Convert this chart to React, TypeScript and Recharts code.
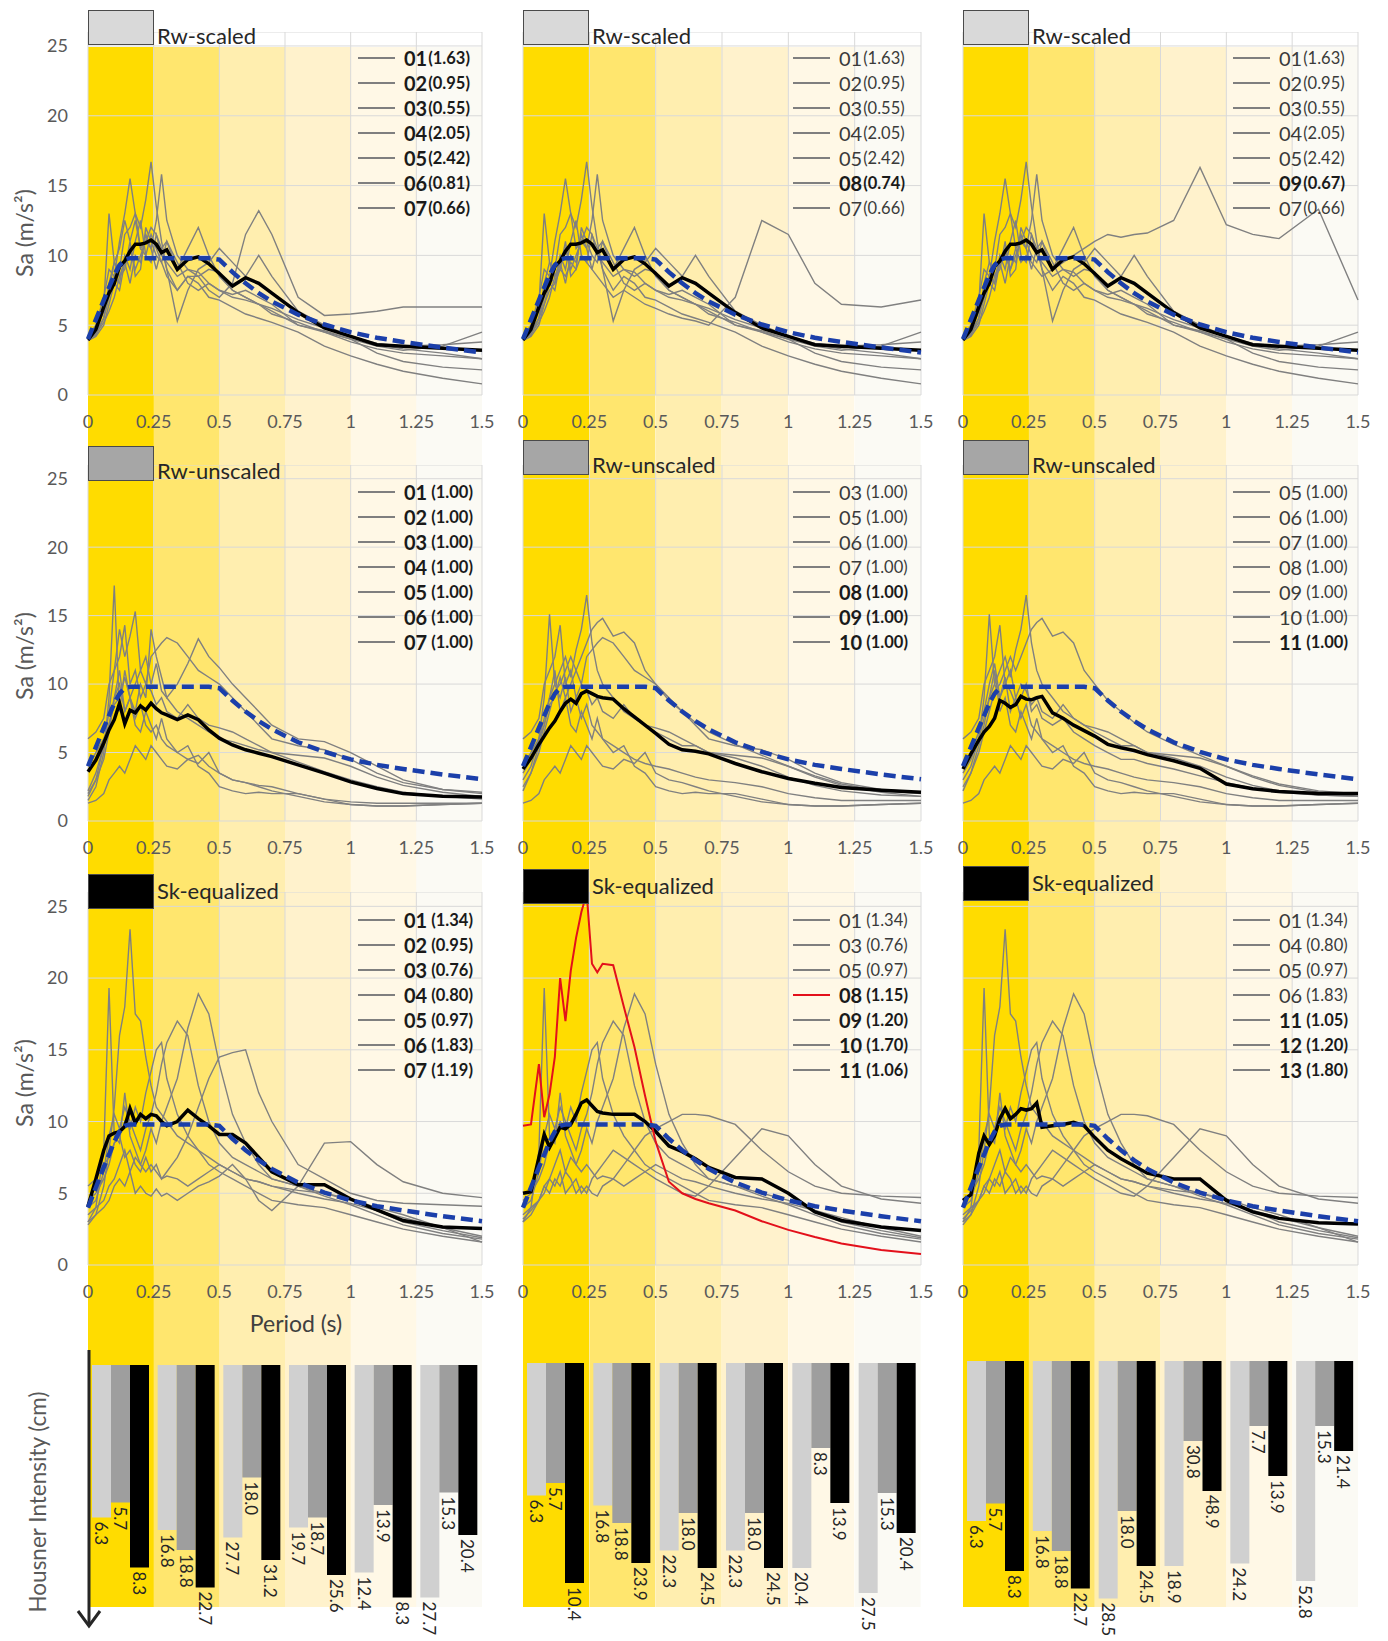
import React from "react";
import {
  LineChart,
  Line,
  XAxis,
  YAxis,
  CartesianGrid,
  BarChart,
  Bar,
  Cell,
  LabelList,
} from "recharts";

const FONT = "Lato, 'Open Sans', sans-serif";

// periods (s) shared by every spectrum
const PERIODS = [0, 0.03, 0.06, 0.08, 0.1, 0.12, 0.14, 0.16, 0.18, 0.2, 0.22, 0.24, 0.26, 0.28, 0.3, 0.34, 0.38, 0.42, 0.46, 0.5, 0.55, 0.6, 0.65, 0.7, 0.8, 0.9, 1.0, 1.1, 1.2, 1.35, 1.5];
const X_TICKS = [0, 0.25, 0.5, 0.75, 1, 1.25, 1.5];
const Y_TICKS = [0, 5, 10, 15, 20, 25];
const BANDS = ["0-0.25", "0.25-0.5", "0.5-0.75", "0.75-1", "1-1.25", "1.25-1.5"];
const BAND_COLORS = ["#FFDC00", "#FFE66E", "#FFEEAF", "#FFF2CC", "#FFF8E6", "#FBFAF4"];

// target (design) spectrum
const TARGET = [4.0, 5.4, 6.8, 7.7, 8.6, 9.3, 9.7, 9.8, 9.8, 9.8, 9.8, 9.8, 9.8, 9.8, 9.8, 9.8, 9.8, 9.8, 9.8, 9.7, 8.8, 8.0, 7.3, 6.7, 5.75, 5.05, 4.5, 4.1, 3.8, 3.4, 3.05];

// ---- Rw-scaled records ----
const RS_01 = [4.0, 4.3, 5.5, 8.0, 9.5, 9.0, 11.5, 12.0, 13.0, 12.0, 14.0, 16.7, 13.5, 11.0, 9.0, 7.5, 8.5, 8.0, 7.0, 6.8, 6.3, 5.8, 5.5, 5.2, 4.5, 3.5, 2.8, 2.2, 1.7, 1.2, 0.8];
const RS_02 = [4.2, 5.0, 7.0, 9.0, 8.5, 11.0, 13.0, 15.5, 13.0, 10.5, 11.0, 10.5, 12.5, 15.8, 12.5, 10.0, 9.0, 8.8, 8.0, 7.5, 7.0, 6.8, 6.5, 6.2, 5.4, 4.8, 4.2, 3.7, 3.5, 3.6, 3.8];
const RS_03 = [4.0, 4.8, 6.5, 13.0, 9.5, 8.5, 9.0, 11.0, 8.5, 9.0, 12.0, 11.0, 10.0, 9.5, 11.0, 9.0, 10.5, 12.0, 10.0, 8.5, 7.5, 7.0, 6.5, 6.0, 5.0, 4.5, 4.0, 3.5, 3.2, 3.5, 4.5];
const RS_04 = [3.9, 4.2, 5.0, 6.5, 8.0, 7.5, 9.5, 8.0, 10.0, 9.5, 11.5, 10.5, 9.0, 10.5, 9.0, 5.3, 7.5, 9.0, 9.5, 10.5, 9.5, 8.5, 10.0, 8.5, 6.0, 5.0, 4.2, 3.6, 3.3, 3.0, 2.6];
const RS_05 = [4.0, 4.5, 5.5, 7.0, 8.5, 8.0, 10.0, 9.0, 11.0, 12.5, 10.0, 9.5, 11.5, 10.5, 11.0, 9.5, 8.0, 7.5, 8.0, 7.5, 7.2, 7.5, 7.0, 6.5, 5.0, 4.6, 4.0, 3.0, 2.4, 2.0, 1.8];
const RS_06 = [4.1, 4.6, 6.0, 7.5, 9.5, 10.5, 12.5, 11.0, 12.5, 10.5, 10.0, 11.5, 10.5, 9.5, 8.5, 7.5, 8.5, 8.5, 7.5, 7.0, 8.0, 11.5, 13.2, 11.5, 7.0, 5.7, 5.8, 6.0, 6.3, 6.3, 6.3];
const RS_07 = [4.0, 4.4, 5.2, 6.0, 7.0, 8.5, 9.5, 10.5, 9.0, 10.0, 11.0, 12.0, 11.5, 10.0, 9.5, 8.5, 9.0, 8.5, 9.0, 8.8, 7.5, 7.0, 6.5, 5.8, 5.2, 4.5, 3.8, 3.3, 3.0, 2.8, 2.6];
const RS_08 = [4.0, 4.5, 5.5, 6.5, 7.5, 8.0, 9.0, 8.5, 9.5, 9.0, 10.0, 9.5, 9.0, 8.5, 8.0, 7.0, 7.5, 7.0, 6.5, 6.2, 5.8, 5.5, 5.3, 5.0, 7.0, 12.5, 11.5, 8.0, 6.5, 6.3, 6.8];
const RS_09 = [4.0, 4.6, 6.0, 7.0, 8.5, 8.0, 9.5, 10.0, 9.0, 10.5, 9.5, 10.0, 9.5, 9.0, 8.5, 9.0, 9.5, 10.0, 10.5, 11.0, 11.5, 11.3, 11.5, 11.6, 12.5, 16.3, 12.2, 11.5, 11.2, 13.3, 6.8];
const RS_MEAN = [3.95, 4.7, 6.3, 7.3, 8.0, 9.2, 9.6, 10.3, 10.8, 10.8, 10.9, 11.1, 10.8, 10.2, 10.4, 9.0, 9.7, 9.9, 9.4, 8.7, 7.8, 8.4, 8.0, 7.3, 5.9, 4.8, 4.2, 3.6, 3.5, 3.35, 3.2];

// ---- Rw-unscaled records ----
const RU_01 = [1.5, 2.5, 5.0, 9.0, 17.2, 8.0, 11.0, 9.0, 7.5, 8.5, 7.0, 6.5, 7.0, 6.0, 5.5, 5.0, 4.5, 4.8, 4.0, 3.5, 3.0, 2.8, 2.6, 2.5, 2.0, 1.6, 1.4, 1.3, 1.3, 1.3, 1.3];
const RU_02 = [2.0, 3.0, 5.5, 8.0, 11.0, 14.0, 12.0, 13.5, 15.3, 11.0, 12.0, 10.0, 11.5, 9.5, 9.0, 8.0, 7.5, 7.0, 6.5, 6.0, 5.8, 5.5, 5.2, 5.0, 4.3, 3.6, 3.0, 2.5, 2.1, 1.8, 1.6];
const RU_03 = [4.0, 5.0, 6.0, 7.0, 8.5, 9.0, 10.5, 9.0, 10.0, 11.0, 10.0, 12.0, 12.5, 13.0, 13.4, 13.0, 12.0, 11.0, 10.5, 10.0, 9.0, 8.0, 7.0, 6.0, 5.5, 5.2, 4.5, 3.5, 2.8, 2.3, 2.1];
const RU_04 = [1.8, 3.0, 4.5, 6.5, 9.0, 10.0, 8.0, 9.0, 8.0, 10.0, 9.0, 14.0, 12.0, 10.5, 9.0, 10.0, 11.5, 13.3, 12.0, 11.2, 10.0, 9.0, 8.0, 7.0, 6.0, 5.8, 5.0, 4.0, 3.0, 2.3, 2.0];
const RU_05 = [1.3, 1.5, 2.0, 3.0, 3.5, 4.0, 3.5, 4.5, 5.5, 5.0, 4.5, 5.5, 5.0, 4.5, 4.0, 3.8, 4.5, 4.2, 5.0, 3.5, 3.0, 2.8, 2.5, 2.2, 1.8, 1.4, 1.2, 1.1, 1.1, 1.2, 1.3];
const RU_06 = [2.2, 3.5, 5.5, 7.0, 9.0, 11.0, 8.0, 9.0, 7.0, 6.5, 8.0, 7.0, 6.0, 7.5, 6.0, 5.0, 5.5, 4.0, 3.5, 2.5, 2.2, 2.0, 2.1, 2.0, 2.0, 1.6, 1.2, 1.1, 1.1, 1.2, 1.3];
const RU_07 = [6.0, 6.5, 7.5, 10.0, 11.0, 12.0, 14.3, 10.0, 11.0, 9.0, 10.0, 9.5, 8.5, 9.0, 8.0, 7.5, 8.5, 7.5, 7.0, 6.8, 6.5, 6.0, 5.5, 5.0, 4.8, 4.6, 4.0, 3.2, 2.6, 2.1, 1.8];
const RU_08 = [3.5, 4.5, 6.0, 7.5, 9.0, 10.0, 11.0, 12.0, 10.5, 12.5, 14.0, 16.5, 13.0, 11.0, 10.0, 9.0, 8.0, 7.5, 7.0, 6.5, 6.0, 5.5, 5.5, 5.0, 4.6, 4.0, 3.2, 2.6, 2.2, 1.9, 1.8];
const RU_09 = [2.5, 3.5, 5.0, 6.5, 8.0, 9.5, 10.0, 11.0, 12.0, 11.0, 12.0, 13.0, 14.0, 14.5, 14.8, 13.5, 13.8, 13.0, 11.0, 10.0, 8.8, 8.0, 7.2, 6.5, 5.6, 4.8, 4.0, 3.3, 2.7, 2.2, 2.0];
const RU_10 = [3.0, 4.0, 6.0, 9.0, 15.1, 10.0, 9.0, 10.5, 8.0, 9.0, 7.5, 8.5, 7.0, 6.5, 6.0, 5.5, 5.0, 4.5, 4.2, 4.0, 3.8, 3.5, 3.2, 3.0, 2.8, 2.5, 2.0, 1.7, 1.5, 1.5, 1.5];
const RU_11 = [4.0, 5.0, 6.5, 8.0, 10.0, 11.5, 9.0, 10.0, 9.5, 8.5, 9.0, 10.0, 8.0, 8.5, 7.5, 7.0, 7.5, 6.5, 6.0, 5.5, 5.0, 4.5, 4.5, 4.2, 3.8, 3.3, 2.8, 2.4, 2.1, 1.9, 1.8];
const RU_MEAN_1 = [3.6, 4.45, 5.7, 6.65, 7.4, 8.6, 7.1, 8.1, 7.9, 8.4, 8.1, 8.6, 8.2, 7.9, 7.75, 7.4, 7.75, 7.4, 6.65, 6.05, 5.55, 5.2, 4.95, 4.7, 4.1, 3.5, 2.86, 2.37, 2.0, 1.8, 1.76];
const RU_MEAN_2 = [3.8, 4.6, 5.6, 6.2, 6.8, 7.3, 8.0, 8.6, 8.9, 8.6, 9.3, 9.5, 9.3, 9.1, 9.0, 8.9, 8.2, 7.6, 7.0, 6.4, 5.6, 5.2, 5.1, 4.9, 4.2, 3.6, 3.1, 2.75, 2.45, 2.25, 2.1];
const RU_MEAN_3 = [3.8, 4.9, 5.9, 6.5, 6.9, 7.5, 8.8, 8.6, 8.3, 8.5, 9.1, 8.9, 8.85, 9.0, 9.1, 7.9, 7.5, 7.0, 6.6, 6.2, 5.6, 5.35, 5.15, 4.85, 4.4, 3.85, 2.7, 2.35, 2.15, 2.0, 2.0];

// ---- Sk-equalized records ----
const SK_A = [3.0, 4.0, 8.0, 19.3, 9.0, 8.5, 12.0, 9.0, 8.0, 7.0, 6.5, 7.0, 6.5, 6.0, 6.2, 6.0, 5.5, 6.0, 6.5, 7.0, 6.5, 6.0, 5.8, 5.5, 5.0, 4.6, 4.3, 3.8, 3.3, 2.6, 2.0];
const SK_B = [3.5, 4.0, 4.5, 5.5, 6.0, 7.0, 8.0, 6.5, 7.5, 7.0, 8.0, 9.5, 8.5, 10.0, 11.0, 13.0, 16.5, 18.9, 17.5, 14.0, 10.5, 8.5, 7.0, 6.0, 5.5, 4.8, 4.2, 3.5, 2.8, 2.2, 1.8];
const SK_C = [4.0, 4.5, 6.5, 9.0, 10.5, 9.5, 11.0, 10.0, 9.0, 8.0, 9.5, 10.5, 12.0, 14.0, 15.5, 17.0, 16.0, 12.5, 10.0, 8.5, 7.5, 7.0, 6.5, 6.0, 5.5, 5.0, 4.5, 3.8, 3.0, 2.4, 1.9];
const SK_D = [2.8, 3.5, 5.5, 8.0, 11.0, 16.0, 18.0, 23.4, 17.5, 17.0, 14.5, 12.5, 11.0, 10.5, 10.0, 9.0, 8.5, 8.0, 7.5, 7.0, 6.5, 6.0, 5.8, 5.5, 5.2, 5.0, 4.6, 4.0, 3.5, 2.6, 1.6];
const SK_E = [5.5, 6.0, 7.0, 7.5, 8.5, 9.0, 7.5, 8.0, 7.0, 6.5, 7.5, 6.5, 7.0, 6.0, 6.5, 7.5, 9.0, 11.0, 13.0, 14.5, 14.8, 15.0, 12.0, 10.0, 7.0, 6.0, 5.0, 4.5, 4.3, 4.2, 4.1];
const SK_F = [4.5, 5.0, 6.0, 7.0, 8.5, 9.0, 10.0, 9.5, 11.0, 10.0, 12.0, 13.5, 15.0, 15.5, 13.0, 10.5, 9.0, 8.0, 7.0, 6.5, 6.0, 5.5, 5.0, 4.5, 4.2, 4.0, 3.5, 3.0, 2.5, 2.0, 1.6];
const SK_G = [3.0, 3.5, 4.0, 4.5, 5.5, 6.0, 5.5, 6.5, 5.0, 5.5, 5.0, 4.8, 5.3, 4.8, 5.0, 4.5, 5.0, 5.5, 5.8, 6.2, 7.0, 6.0, 4.5, 3.8, 5.5, 8.5, 8.6, 7.0, 5.8, 5.0, 4.7];
const SK_H = [3.0, 3.5, 4.5, 5.0, 6.0, 5.5, 6.5, 5.0, 5.5, 6.0, 5.0, 5.5, 5.0, 4.8, 5.5, 6.0, 7.0, 8.0, 9.0, 9.5, 10.0, 10.5, 10.5, 10.4, 9.8, 8.0, 6.5, 5.5, 5.0, 4.8, 4.7];
const SK_I = [3.2, 3.8, 4.5, 5.5, 5.0, 6.0, 5.5, 6.5, 6.0, 5.0, 5.5, 5.0, 6.0, 6.5, 7.0, 8.0, 7.5, 7.0, 6.5, 6.0, 5.5, 5.0, 4.8, 5.5, 7.5, 9.5, 9.0, 7.0, 5.5, 4.6, 4.3];
const SK_08_RED = [9.7, 9.8, 14.0, 10.3, 11.9, 14.5, 20.0, 17.0, 20.5, 22.8, 24.6, 25.9, 21.0, 20.4, 21.0, 20.9, 18.0, 15.2, 11.8, 8.6, 5.8, 5.0, 4.6, 4.3, 3.8, 3.05, 2.45, 1.95, 1.5, 1.05, 0.77];
const SK_MEAN_1 = [4.1, 6.0, 8.0, 9.0, 9.2, 9.3, 9.65, 10.9, 9.9, 10.5, 10.2, 10.5, 10.4, 10.0, 9.7, 10.0, 10.8, 10.2, 9.7, 9.1, 9.1, 8.5, 7.5, 6.5, 5.6, 5.6, 4.6, 3.85, 3.1, 2.65, 2.55];
const SK_MEAN_2 = [5.0, 5.1, 7.5, 9.1, 8.2, 8.9, 9.6, 9.5, 9.8, 10.5, 11.3, 11.5, 11.1, 10.7, 10.6, 10.5, 10.5, 10.5, 10.0, 9.3, 8.3, 7.9, 7.4, 6.8, 6.1, 6.0, 5.0, 3.7, 3.1, 2.65, 2.4];
const SK_MEAN_3 = [4.5, 4.9, 7.8, 9.0, 8.4, 9.0, 10.2, 10.9, 10.2, 10.5, 10.9, 10.8, 10.9, 11.3, 9.6, 9.7, 9.8, 9.95, 9.7, 8.9, 8.0, 7.4, 6.9, 6.4, 6.0, 6.0, 4.5, 3.7, 3.25, 2.95, 2.85];

// legend entries: [record, scale factor, bold, line colour]
type Entry = [string, string, boolean, string?];
const LEG_RS_1: Entry[] = [["01", "1.63", true], ["02", "0.95", true], ["03", "0.55", true], ["04", "2.05", true], ["05", "2.42", true], ["06", "0.81", true], ["07", "0.66", true]];
const LEG_RS_2: Entry[] = [["01", "1.63", false], ["02", "0.95", false], ["03", "0.55", false], ["04", "2.05", false], ["05", "2.42", false], ["08", "0.74", true], ["07", "0.66", false]];
const LEG_RS_3: Entry[] = [["01", "1.63", false], ["02", "0.95", false], ["03", "0.55", false], ["04", "2.05", false], ["05", "2.42", false], ["09", "0.67", true], ["07", "0.66", false]];
const LEG_RU_1: Entry[] = [["01", "1.00", true], ["02", "1.00", true], ["03", "1.00", true], ["04", "1.00", true], ["05", "1.00", true], ["06", "1.00", true], ["07", "1.00", true]];
const LEG_RU_2: Entry[] = [["03", "1.00", false], ["05", "1.00", false], ["06", "1.00", false], ["07", "1.00", false], ["08", "1.00", true], ["09", "1.00", true], ["10", "1.00", true]];
const LEG_RU_3: Entry[] = [["05", "1.00", false], ["06", "1.00", false], ["07", "1.00", false], ["08", "1.00", false], ["09", "1.00", false], ["10", "1.00", false], ["11", "1.00", true]];
const LEG_SK_1: Entry[] = [["01", "1.34", true], ["02", "0.95", true], ["03", "0.76", true], ["04", "0.80", true], ["05", "0.97", true], ["06", "1.83", true], ["07", "1.19", true]];
const LEG_SK_2: Entry[] = [["01", "1.34", false], ["03", "0.76", false], ["05", "0.97", false], ["08", "1.15", true, "#e3101b"], ["09", "1.20", true], ["10", "1.70", true], ["11", "1.06", true]];
const LEG_SK_3: Entry[] = [["01", "1.34", false], ["04", "0.80", false], ["05", "0.97", false], ["06", "1.83", false], ["11", "1.05", true], ["12", "1.20", true], ["13", "1.80", true]];

const ROW_TITLES = ["Rw-scaled", "Rw-unscaled", "Sk-equalized"];

// Housner intensity bars: drawn depth (relative) and printed value (cm)
const HI_DEPTH_SC_1 = [61, 66, 69, 65, 83, 93];
const HI_DEPTH_UN_1 = [55, 74, 45, 61, 56, 51];
const HI_DEPTH_SK_1 = [81, 89, 78, 84, 93, 68];
const HI_LABEL_SC_1 = ["6.3", "16.8", "27.7", "19.7", "12.4", "27.7"];
const HI_LABEL_UN_1 = ["5.7", "18.8", "18.0", "18.7", "13.9", "15.3"];
const HI_LABEL_SK_1 = ["8.3", "22.7", "31.2", "25.6", "8.3", "20.4"];
const HI_DEPTH_SC_2 = [53, 57, 75, 75, 82, 92];
const HI_DEPTH_UN_2 = [48, 64, 60, 60, 34, 52];
const HI_DEPTH_SK_2 = [88, 80, 82, 82, 56, 68];
const HI_LABEL_SC_2 = ["6.3", "16.8", "22.3", "22.3", "20.4", "27.5"];
const HI_LABEL_UN_2 = ["5.7", "18.8", "18.0", "18.0", "8.3", "15.3"];
const HI_LABEL_SK_2 = ["10.4", "23.9", "24.5", "24.5", "13.9", "20.4"];
const HI_DEPTH_SC_3 = [64, 68, 95, 82, 81, 88];
const HI_DEPTH_UN_3 = [57, 76, 60, 32, 26, 26];
const HI_DEPTH_SK_3 = [84, 91, 82, 52, 46, 36];
const HI_LABEL_SC_3 = ["6.3", "16.8", "28.5", "18.9", "24.2", "52.8"];
const HI_LABEL_UN_3 = ["5.7", "18.8", "18.0", "30.8", "7.7", "15.3"];
const HI_LABEL_SK_3 = ["8.3", "22.7", "24.5", "48.9", "13.9", "21.4"];

const PANELS = [
  [
    { records: [RS_01, RS_02, RS_03, RS_04, RS_05, RS_06, RS_07], mean: RS_MEAN, legend: LEG_RS_1 },
    { records: [RS_01, RS_02, RS_03, RS_04, RS_05, RS_08, RS_07], mean: RS_MEAN, legend: LEG_RS_2 },
    { records: [RS_01, RS_02, RS_03, RS_04, RS_05, RS_09, RS_07], mean: RS_MEAN, legend: LEG_RS_3 },
  ],
  [
    { records: [RU_01, RU_02, RU_03, RU_04, RU_05, RU_06, RU_07], mean: RU_MEAN_1, legend: LEG_RU_1 },
    { records: [RU_03, RU_05, RU_06, RU_07, RU_08, RU_09, RU_10], mean: RU_MEAN_2, legend: LEG_RU_2 },
    { records: [RU_05, RU_06, RU_07, RU_08, RU_09, RU_10, RU_11], mean: RU_MEAN_3, legend: LEG_RU_3 },
  ],
  [
    { records: [SK_A, SK_B, SK_C, SK_D, SK_E, SK_F, SK_G], mean: SK_MEAN_1, legend: LEG_SK_1 },
    { records: [SK_A, SK_C, SK_B, SK_H, SK_I, SK_F], mean: SK_MEAN_2, red: SK_08_RED, legend: LEG_SK_2 },
    { records: [SK_A, SK_D, SK_B, SK_C, SK_F, SK_H, SK_I], mean: SK_MEAN_3, legend: LEG_SK_3 },
  ],
];

const HOUSNER = [
  { sc: HI_DEPTH_SC_1, un: HI_DEPTH_UN_1, sk: HI_DEPTH_SK_1, scL: HI_LABEL_SC_1, unL: HI_LABEL_UN_1, skL: HI_LABEL_SK_1 },
  { sc: HI_DEPTH_SC_2, un: HI_DEPTH_UN_2, sk: HI_DEPTH_SK_2, scL: HI_LABEL_SC_2, unL: HI_LABEL_UN_2, skL: HI_LABEL_SK_2 },
  { sc: HI_DEPTH_SC_3, un: HI_DEPTH_UN_3, sk: HI_DEPTH_SK_3, scL: HI_LABEL_SC_3, unL: HI_LABEL_UN_3, skL: HI_LABEL_SK_3 },
];

// page layout (plot areas in page pixels)
const COLS = [{ L: 88, R: 482 }, { L: 523, R: 921 }, { L: 963, R: 1358 }];
const ROWS = [{ T: 32, B: 395 }, { T: 465, B: 821 }, { T: 892, B: 1265 }];
const LEGEND_FIRST = [58, 492, 920];
const BOX_TOP = [[10, 10, 10], [446, 440, 440], [874, 869, 866]];
const BOX_FILL = ["#d9d9d9", "#a6a6a6", "#000000"];
const BAR_TOP = [1365, 1363, 1361];
const TITLE_Y = [233, 656, 1083];

const tickStyle = { fontSize: 18, fill: "#595959", fontFamily: FONT };

// period bands drawn as a full-height background strip behind each column
const BandColumn = ({ col }: { col: number }) => {
  const { L, R } = COLS[col];
  const data = BANDS.map((b) => ({ b, v: 1 }));
  return (
    <div style={{ position: "absolute", left: L, top: 47 }}>
      <BarChart width={R - L} height={1560} data={data} margin={{ top: 0, right: 0, bottom: 0, left: 0 }} barCategoryGap={0} barGap={0}>
        <XAxis dataKey="b" hide />
        <YAxis type="number" domain={[0, 1]} hide />
        <Bar dataKey="v" isAnimationActive={false}>
          {BAND_COLORS.map((c, i) => (
            <Cell key={i} fill={c} />
          ))}
        </Bar>
      </BarChart>
    </div>
  );
};

const SpectrumPanel = ({ row, col }: { row: number; col: number }) => {
  const panel: any = PANELS[row][col];
  const { L, R } = COLS[col];
  const { T, B } = ROWS[row];
  const showY = col === 0;
  const left = showY ? 0 : L - 20;
  const width = showY ? R + 20 : R - L + 40;
  const data = PERIODS.map((t, i) => {
    const d: any = { t, target: TARGET[i], mean: panel.mean[i] };
    panel.records.forEach((r: number[], k: number) => (d["r" + k] = r[i]));
    if (panel.red) d.red = panel.red[i];
    return d;
  });
  return (
    <div style={{ position: "absolute", left, top: T }}>
      <LineChart width={width} height={B - T + 40} data={data} margin={{ top: 0, right: 20, bottom: 0, left: showY ? 0 : 20 }}>
        <CartesianGrid stroke="#d9d9d9" />
        <XAxis
          type="number"
          dataKey="t"
          domain={[0, 1.5]}
          ticks={X_TICKS}
          interval={0}
          axisLine={false}
          tickLine={false}
          tickSize={0}
          tickMargin={20}
          height={40}
          tick={tickStyle}
        />
        <YAxis
          type="number"
          domain={[0, 26]}
          ticks={Y_TICKS}
          interval={0}
          hide={!showY}
          width={showY ? L : 0}
          axisLine={false}
          tickLine={false}
          tickSize={0}
          tickMargin={20}
          tick={tickStyle}
        />
        {panel.records.map((_: number[], k: number) => (
          <Line key={k} dataKey={"r" + k} stroke="#808080" strokeWidth={1.4} dot={false} isAnimationActive={false} />
        ))}
        <Line dataKey="mean" stroke="#000000" strokeWidth={3.5} dot={false} isAnimationActive={false} />
        {panel.red && <Line dataKey="red" stroke="#e3101b" strokeWidth={2} dot={false} isAnimationActive={false} />}
        <Line dataKey="target" stroke="#1b3faa" strokeWidth={4.5} strokeDasharray="12 6" dot={false} isAnimationActive={false} />
      </LineChart>
    </div>
  );
};

const PanelLegend = ({ row, col }: { row: number; col: number }) => {
  const entries: Entry[] = PANELS[row][col].legend;
  const { L } = COLS[col];
  return (
    <div style={{ position: "absolute", left: L + 270, top: LEGEND_FIRST[row] - 12.5, fontFamily: FONT }}>
      {entries.map(([id, f, bold, color]) => (
        <div key={id} style={{ height: 25, display: "flex", alignItems: "center", whiteSpace: "nowrap" }}>
          <span style={{ width: 37, height: 2, background: color || "#7f7f7f", marginRight: 9, display: "inline-block" }} />
          <span style={{ fontSize: 20, fontWeight: bold ? 700 : 400, color: bold ? "#1a1a1a" : "#3a3a3a" }}>{id}</span>
          <span style={{ fontSize: 16.5, fontWeight: bold ? 700 : 400, color: bold ? "#1a1a1a" : "#3a3a3a", marginLeft: row === 0 ? 1 : 4 }}>
            ({f})
          </span>
        </div>
      ))}
    </div>
  );
};

const MethodBox = ({ row, col }: { row: number; col: number }) => {
  const { L } = COLS[col];
  const top = BOX_TOP[row][col];
  const baseline = row === 0 ? 44 : row === 1 ? top + 33 : top + 25;
  return (
    <>
      <div
        style={{
          position: "absolute",
          left: L,
          top,
          width: 66,
          height: 35,
          boxSizing: "border-box",
          background: BOX_FILL[row],
          border: "1.5px solid #4a4a4a",
        }}
      />
      <div
        style={{
          position: "absolute",
          left: L + 69,
          top: baseline - 19.5,
          fontSize: 22,
          lineHeight: "22px",
          fontFamily: FONT,
          color: "#262626",
          whiteSpace: "nowrap",
        }}
      >
        {ROW_TITLES[row]}
      </div>
    </>
  );
};

const BarValueLabel = (p: any) => {
  const vb = p.viewBox || {};
  const x = Number(p.x ?? vb.x);
  const y = Number(p.y ?? vb.y);
  const w = Number(p.width ?? vb.width);
  const h = Number(p.height ?? vb.height);
  const bottom = Math.max(y, y + h);
  const cx = x + w / 2;
  const ty = bottom + 4;
  return (
    <text
      x={cx}
      y={ty}
      transform={`rotate(90 ${cx} ${ty})`}
      textAnchor="start"
      dominantBaseline="central"
      fontSize={17}
      fontFamily={FONT}
      fill="#262626"
    >
      {p.value}
    </text>
  );
};

const HousnerBars = ({ col }: { col: number }) => {
  const { L, R } = COLS[col];
  const h = HOUSNER[col];
  const data = BANDS.map((g, i) => ({ g, sc: h.sc[i], un: h.un[i], sk: h.sk[i], scL: h.scL[i], unL: h.unL[i], skL: h.skL[i] }));
  return (
    <div style={{ position: "absolute", left: L, top: BAR_TOP[col] }}>
      <BarChart width={R - L} height={280} data={data} margin={{ top: 0, right: 0, bottom: 30, left: 0 }} barCategoryGap={4} barGap={0}>
        <XAxis dataKey="g" hide />
        <YAxis type="number" domain={[0, 100]} reversed hide />
        <Bar dataKey="sc" fill="#d0d0d0" isAnimationActive={false}>
          <LabelList dataKey="scL" content={BarValueLabel} />
        </Bar>
        <Bar dataKey="un" fill="#9e9e9e" isAnimationActive={false}>
          <LabelList dataKey="unL" content={BarValueLabel} />
        </Bar>
        <Bar dataKey="sk" fill="#000000" isAnimationActive={false}>
          <LabelList dataKey="skL" content={BarValueLabel} />
        </Bar>
      </BarChart>
    </div>
  );
};

const RotatedTitle = ({ text, cx, cy, size }: { text: string; cx: number; cy: number; size: number }) => (
  <div
    style={{
      position: "absolute",
      left: cx - 150,
      top: cy - 14,
      width: 300,
      height: 28,
      lineHeight: "28px",
      textAlign: "center",
      transform: "rotate(-90deg)",
      fontSize: size,
      fontFamily: FONT,
      color: "#595959",
      whiteSpace: "nowrap",
    }}
  >
    {text}
  </div>
);

export default function App() {
  const cells: [number, number][] = [];
  for (let r = 0; r < 3; r++) for (let c = 0; c < 3; c++) cells.push([r, c]);
  return (
    <div style={{ position: "absolute", left: 0, top: 0, width: 1388, height: 1641, background: "#ffffff", overflow: "hidden" }}>
      {[0, 1, 2].map((c) => (
        <BandColumn key={"band" + c} col={c} />
      ))}
      {[0, 1, 2].map((c) => (
        <HousnerBars key={"hi" + c} col={c} />
      ))}
      {cells.map(([r, c]) => (
        <SpectrumPanel key={`sp${r}${c}`} row={r} col={c} />
      ))}
      {cells.map(([r, c]) => (
        <MethodBox key={`box${r}${c}`} row={r} col={c} />
      ))}
      {cells.map(([r, c]) => (
        <PanelLegend key={`leg${r}${c}`} row={r} col={c} />
      ))}
      {TITLE_Y.map((y, i) => (
        <RotatedTitle key={"sa" + i} text="Sa (m/s²)" cx={24} cy={y} size={23} />
      ))}
      <RotatedTitle text="Housner Intensity (cm)" cx={38} cy={1502} size={22.5} />
      <div
        style={{
          position: "absolute",
          left: 196,
          top: 1309,
          width: 200,
          textAlign: "center",
          fontSize: 23,
          lineHeight: "28px",
          fontFamily: FONT,
          color: "#404040",
        }}
      >
        Period (s)
      </div>
      <svg style={{ position: "absolute", left: 70, top: 1345 }} width={40} height={290}>
        <line x1={19} y1={5} x2={19} y2={281} stroke="#262626" strokeWidth={3} />
        <polyline points="8,266 19,281 30,266" fill="none" stroke="#262626" strokeWidth={3} />
      </svg>
    </div>
  );
}
